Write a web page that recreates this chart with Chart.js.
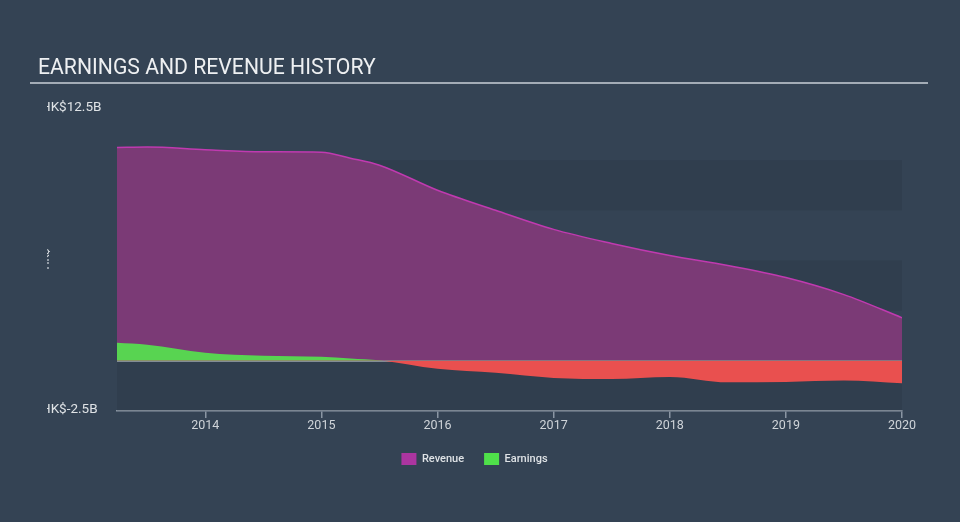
<!DOCTYPE html>
<html>
<head>
<meta charset="utf-8">
<script src="https://cdn.jsdelivr.net/npm/chart.js@4/dist/chart.umd.min.js"></script>
<style>
  html, body { margin: 0; padding: 0; background: #344354; }
  #wrap { position: relative; width: 960px; height: 522px; overflow: hidden; }
  #title {
    position: absolute; left: 30px; top: 55px; width: 890px;
    font-family: Roboto, sans-serif; font-size: 21.2px; color: #eef0f2;
    padding: 0 0 3px 8px; border-bottom: 2px solid #a3acb6; line-height: 24px;
  }
  canvas { position: absolute; left: 0; top: 0; }
</style>
</head>
<body>
<div id="wrap">
  <canvas id="chart" width="960" height="522"></canvas>
  <div id="title">EARNINGS AND REVENUE HISTORY</div>
</div>
<script>
// data (HK$ billions), x = decimal year
const years    = [2013.24, 2013.5, 2014.0, 2014.5, 2015.0, 2015.25, 2015.5, 2016.0, 2016.5, 2017.0, 2017.5, 2018.0, 2018.5, 2019.0, 2019.5, 2020.0];
const revenue  = [10.63, 10.65, 10.52, 10.42, 10.40, 10.10, 9.75, 8.50, 7.50, 6.55, 5.85, 5.25, 4.75, 4.15, 3.30, 2.15];
const earnings = [0.90, 0.80, 0.40, 0.25, 0.20, 0.12, 0.03, -0.40, -0.60, -0.85, -0.90, -0.80, -1.07, -1.05, -0.98, -1.12];
const xTicks = [2014, 2015, 2016, 2017, 2018, 2019, 2020];
const yTicks = [-2.5, 0, 2.5, 5, 7.5, 10, 12.5];
const yLabels = ['HK$-2.5B', 'HK$12.5B']; // min, max
const yTitle = 'HK$';

const pts = arr => arr.map((v, i) => ({ x: years[i], y: v }));

// background bands, zero line and clipped y labels
const decor = {
  id: 'decor',
  beforeDatasetsDraw(chart) {
    const { ctx, chartArea: a, scales: { y } } = chart;
    ctx.save();
    ctx.fillStyle = 'rgba(20,30,40,0.13)';
    for (let i = 0; i < yTicks.length - 1; i += 2) {
      const y0 = y.getPixelForValue(yTicks[i]);
      const y1 = y.getPixelForValue(yTicks[i + 1]);
      ctx.fillRect(a.left, y1, a.right - a.left, y0 - y1);
    }
    const z = y.getPixelForValue(0);
    ctx.strokeStyle = '#d5dade';
    ctx.lineWidth = 1.5;
    ctx.beginPath();
    ctx.moveTo(a.left, z);
    ctx.lineTo(a.right, z);
    ctx.stroke();
    ctx.restore();
  },
  afterDraw(chart) {
    const { ctx, scales: { y } } = chart;
    ctx.save();
    ctx.beginPath();
    ctx.rect(47, 0, 100, 522);
    ctx.clip();
    ctx.fillStyle = '#dfe3e6';
    ctx.font = '13.5px Roboto, sans-serif';
    ctx.textBaseline = 'middle';
    ctx.textAlign = 'left';
    ctx.fillText(yLabels[0], 41, y.getPixelForValue(yTicks[0]) - 1);
    ctx.fillText(yLabels[1], 41, y.getPixelForValue(yTicks[yTicks.length - 1]) - 2);
    // rotated axis title, mostly hidden
    ctx.translate(45, 259);
    ctx.rotate(-Math.PI / 2);
    ctx.textAlign = 'center';
    ctx.textBaseline = 'bottom';
    ctx.font = '11px Roboto, sans-serif';
    ctx.fillStyle = '#dfe3e6';
    ctx.fillText(yTitle, 0, 7);
    ctx.restore();
  }
};

new Chart(document.getElementById('chart'), {
  type: 'line',
  data: {
    datasets: [
      {
        label: 'Revenue',
        data: pts(revenue),
        order: 2,
        borderColor: '#c03ab0',
        borderWidth: 1.5,
        backgroundColor: '#ac35a0',
        fill: { target: 'origin', above: '#7b3a76', below: '#7b3a76' },
        pointRadius: 0,
        cubicInterpolationMode: 'monotone'
      },
      {
        label: 'Earnings',
        data: pts(earnings),
        order: 1,
        borderWidth: 0,
        borderColor: 'rgba(0,0,0,0)',
        backgroundColor: '#4fe04a',
        fill: { target: 'origin', above: '#58d451', below: '#e9504f' },
        pointRadius: 0,
        cubicInterpolationMode: 'monotone'
      }
    ]
  },
  options: {
    responsive: false,
    animation: false,
    layout: { padding: { left: 47, right: 58, top: 110, bottom: 47 } },
    scales: {
      x: {
        type: 'linear',
        min: years[0],
        max: years[years.length - 1],
        afterBuildTicks: s => { s.ticks = xTicks.map(v => ({ value: v })); },
        grid: { drawOnChartArea: false, drawTicks: true, tickLength: 7, color: '#8a96a3', lineWidth: 1.5 },
        border: { display: true, color: '#8a96a3', width: 1.5 },
        ticks: { color: '#cfd4d9', font: { family: 'Roboto', size: 12.5 }, padding: 0, maxRotation: 0, callback: v => String(v) }
      },
      y: {
        min: yTicks[0],
        max: yTicks[yTicks.length - 1],
        afterFit: s => { s.width = 70; },
        grid: { display: false },
        border: { display: false },
        ticks: { display: false }
      }
    },
    plugins: {
      legend: {
        position: 'bottom',
        labels: {
          color: '#dfe3e6',
          font: { family: 'Roboto', size: 11, weight: '500' },
          boxWidth: 15,
          boxHeight: 12,
          padding: 20,
          generateLabels(chart) {
            return chart.data.datasets.map((d, i) => ({
              text: d.label,
              fillStyle: d.backgroundColor,
              strokeStyle: d.backgroundColor,
              lineWidth: 0,
              fontColor: '#dfe3e6',
              datasetIndex: i,
              hidden: false
            }));
          }
        }
      },
      tooltip: { enabled: false }
    }
  },
  plugins: [decor]
});
</script>
</body>
</html>
